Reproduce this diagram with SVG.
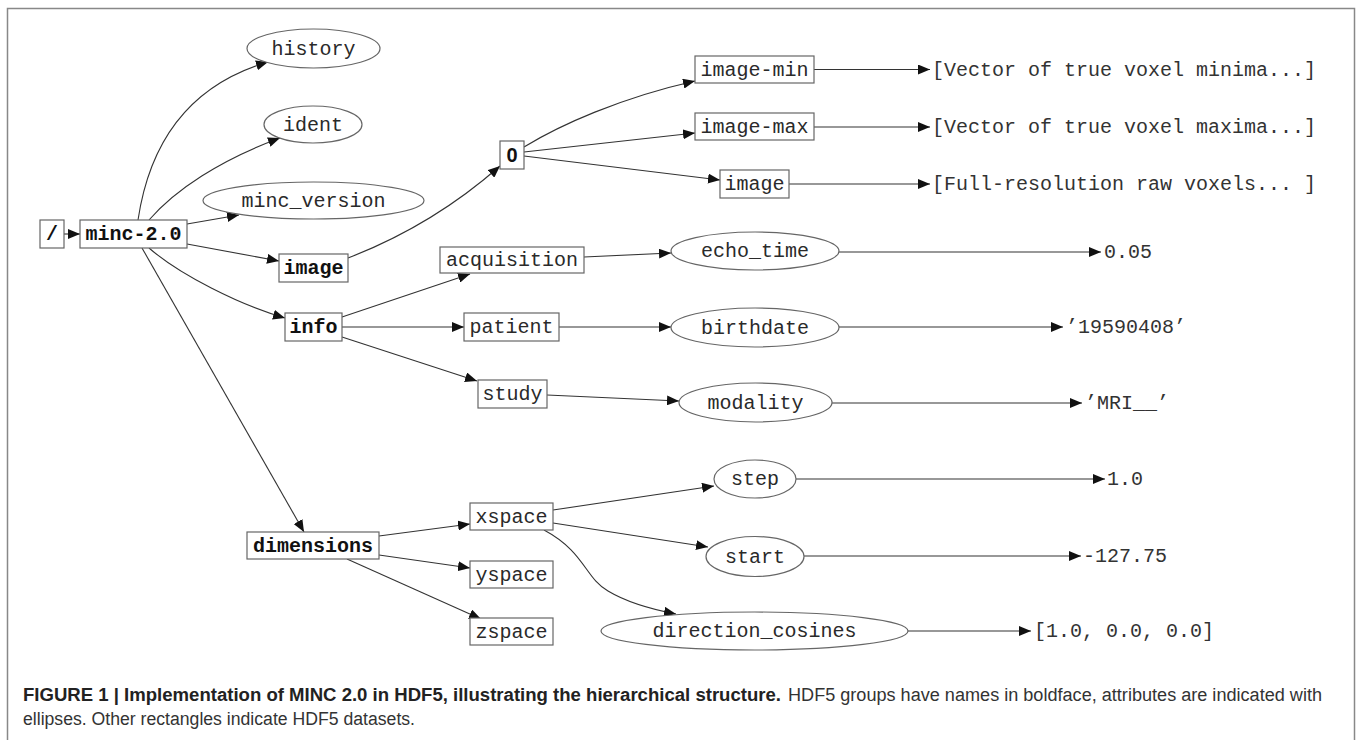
<svg xmlns="http://www.w3.org/2000/svg" width="1360" height="740" viewBox="0 0 1360 740">
<style>
  .box{fill:#fff;stroke:#666;stroke-width:1.2}
  .ell{fill:#fff;stroke:#666;stroke-width:1.2}
  .t{font-family:"Liberation Mono","DejaVu Sans Mono",monospace;font-size:20px;fill:#2a2a2a;text-anchor:middle}
  .b{font-weight:bold;fill:#111}
  .v{text-anchor:start;fill:#333}
  .e{fill:none;stroke:#333;stroke-width:1.1;marker-end:url(#ah)}
  .cap{font-family:"Liberation Sans",Arial,sans-serif;font-size:18px;fill:#333}
</style>
<defs>
  <marker id="ah" markerUnits="userSpaceOnUse" markerWidth="13" markerHeight="10" refX="12" refY="5" orient="auto">
    <path d="M0,0 L12,5 L0,10 z" fill="#111"/>
  </marker>
</defs>
<rect x="0" y="0" width="1360" height="740" fill="#fff"/>
<rect x="7.5" y="8.5" width="1347" height="760" fill="none" stroke="#888" stroke-width="1.5"/>

<g id="connectors">
  <path class="e" d="M64,234 L80,234"/>
  <path class="e" d="M138,220 C150,140 190,85 268,62"/>
  <path class="e" d="M149,220 C175,190 220,160 280,138"/>
  <path class="e" d="M187,224 L239,215"/>
  <path class="e" d="M187,244 L279,261"/>
  <path class="e" d="M149,248 C180,275 240,305 285,318"/>
  <path class="e" d="M142,248 L304,532"/>
  <path class="e" d="M348,258 C400,238 450,210 500,166"/>
  <path class="e" d="M524,147 C560,125 620,98 695,81"/>
  <path class="e" d="M524,152 L695,133"/>
  <path class="e" d="M524,156 L720,180"/>
  <path class="e" d="M814,69.5 L930,69.5"/>
  <path class="e" d="M814,127 L930,127"/>
  <path class="e" d="M789,184 L930,184"/>
  <path class="e" d="M342,317 L470,274"/>
  <path class="e" d="M342,327 L464,327"/>
  <path class="e" d="M342,337 L477,381"/>
  <path class="e" d="M584,257 L671,253"/>
  <path class="e" d="M559,327 L671,327"/>
  <path class="e" d="M547,395 L679,401"/>
  <path class="e" d="M839,252 L1101,252"/>
  <path class="e" d="M839,327 L1063,327"/>
  <path class="e" d="M832,403 L1082,403"/>
  <path class="e" d="M379,536 L470,524"/>
  <path class="e" d="M379,555 L470,568"/>
  <path class="e" d="M347,559 L481,619"/>
  <path class="e" d="M553,510 L714,486"/>
  <path class="e" d="M553,523 L708,547"/>
  <path class="e" d="M544,530 C585,552 585,578 608,591 C628,603 650,609 676,614"/>
  <path class="e" d="M796,479 L1105,479"/>
  <path class="e" d="M804,556 L1081,556"/>
  <path class="e" d="M908,631 L1031,631"/>
</g>

<g id="root"><rect class="box" x="40" y="220" width="24" height="28"/><text class="t b" x="52" y="240">/</text></g>
<g id="minc"><rect class="box" x="80" y="220" width="107" height="28"/><text class="t b" x="133.5" y="240">minc-2.0</text></g>
<g id="history"><ellipse class="ell" cx="313.5" cy="48.5" rx="66.5" ry="19.5"/><text class="t" x="313.5" y="54.5">history</text></g>
<g id="ident"><ellipse class="ell" cx="313" cy="124.5" rx="49" ry="18.5"/><text class="t" x="313" y="130.5">ident</text></g>
<g id="minc_version"><ellipse class="ell" cx="313.5" cy="200.5" rx="110.5" ry="18.5"/><text class="t" x="313.5" y="206.5">minc_version</text></g>
<g id="image_group"><rect class="box" x="279" y="254" width="69" height="28"/><text class="t b" x="313.5" y="274">image</text></g>
<g id="info"><rect class="box" x="285" y="313" width="57" height="28"/><text class="t b" x="313.5" y="333">info</text></g>
<g id="dimensions"><rect class="box" x="247" y="532" width="132" height="27"/><text class="t b" x="313" y="551.5">dimensions</text></g>
<g id="zero"><rect class="box" x="500" y="141" width="24" height="28"/><text class="t b" x="512" y="162" style="font-family:'Liberation Sans',Arial,sans-serif">0</text></g>
<g id="image_min"><rect class="box" x="695" y="56" width="119" height="27"/><text class="t" x="754.5" y="75.5">image-min</text></g>
<g id="image_max"><rect class="box" x="695" y="113" width="119" height="27"/><text class="t" x="754.5" y="132.5">image-max</text></g>
<g id="image_data"><rect class="box" x="720" y="170" width="69" height="28"/><text class="t" x="754.5" y="190">image</text></g>
<g id="acquisition"><rect class="box" x="440" y="247" width="144" height="26"/><text class="t" x="512" y="266">acquisition</text></g>
<g id="patient"><rect class="box" x="464" y="313" width="95" height="28"/><text class="t" x="511.5" y="333">patient</text></g>
<g id="study"><rect class="box" x="478" y="380" width="69" height="28"/><text class="t" x="512.5" y="400">study</text></g>
<g id="xspace"><rect class="box" x="470" y="503" width="83" height="27"/><text class="t" x="511.5" y="522.5">xspace</text></g>
<g id="yspace"><rect class="box" x="470" y="561" width="83" height="27"/><text class="t" x="511.5" y="580.5">yspace</text></g>
<g id="zspace"><rect class="box" x="470" y="618" width="83" height="27"/><text class="t" x="511.5" y="637.5">zspace</text></g>
<g id="echo_time"><ellipse class="ell" cx="755" cy="251" rx="84" ry="19"/><text class="t" x="755" y="257">echo_time</text></g>
<g id="birthdate"><ellipse class="ell" cx="755" cy="327.5" rx="84" ry="19.5"/><text class="t" x="755" y="333.5">birthdate</text></g>
<g id="modality"><ellipse class="ell" cx="755.5" cy="402.5" rx="76.5" ry="19.5"/><text class="t" x="755.5" y="408.5">modality</text></g>
<g id="step"><ellipse class="ell" cx="755" cy="479" rx="41" ry="19"/><text class="t" x="755" y="485">step</text></g>
<g id="start"><ellipse class="ell" cx="755" cy="556.5" rx="49" ry="20"/><text class="t" x="755" y="562.5">start</text></g>
<g id="direction_cosines"><ellipse class="ell" cx="754.5" cy="631" rx="153.5" ry="19"/><text class="t" x="754.5" y="637">direction_cosines</text></g>

<g id="val_min"><text class="t v" x="932" y="75.5">[Vector of true voxel minima...]</text></g>
<g id="val_max"><text class="t v" x="932" y="133">[Vector of true voxel maxima...]</text></g>
<g id="val_full"><text class="t v" x="932" y="190">[Full-resolution raw voxels... ]</text></g>
<g id="val_echo"><text class="t v" x="1104" y="258">0.05</text></g>
<g id="val_birth"><text class="t v" x="1066" y="333">’19590408’</text></g>
<g id="val_mod"><text class="t v" x="1085" y="409">’MRI__’</text></g>
<g id="val_step"><text class="t v" x="1107" y="485">1.0</text></g>
<g id="val_start"><text class="t v" x="1083" y="562">-127.75</text></g>
<g id="val_dc"><text class="t v" x="1034" y="637">[1.0, 0.0, 0.0]</text></g>

<g id="caption">
  <text class="cap" y="701"><tspan x="23" font-weight="bold" fill="#222" textLength="758" lengthAdjust="spacingAndGlyphs">FIGURE 1 | Implementation of MINC 2.0 in HDF5, illustrating the hierarchical structure.</tspan><tspan x="788" textLength="534" lengthAdjust="spacingAndGlyphs">HDF5 groups have names in boldface, attributes are indicated with</tspan></text>
  <text class="cap" x="23" y="725" textLength="392" lengthAdjust="spacingAndGlyphs">ellipses. Other rectangles indicate HDF5 datasets.</text>
</g>
</svg>
